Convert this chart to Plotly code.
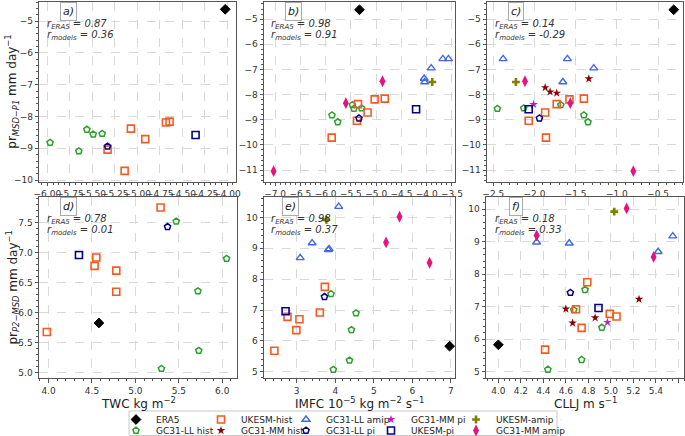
import plotly.graph_objects as go

W, H = 685, 436
FONT = "DejaVu Sans"

# ---------------- data ----------------
SERIES = ["ERA5", "GC31-LL hist", "UKESM-hist", "GC31-MM hist", "GC31-LL amip",
          "GC31-LL pi", "GC31-MM pi", "UKESM-pi", "UKESM-amip", "GC31-MM amip"]

# top row: y = pr MSD-P1 (mm/day), shared by panels a, b, c
Y_TOP = {
    "ERA5": [-4.63],
    "UKESM-hist": [-9.04, -9.71, -8.38, -8.71, -8.19, -8.16],
    "GC31-LL hist": [-8.82, -9.09, -8.41, -8.56, -8.54],
    "GC31-LL amip": [-7.36, -7.50, -6.95, -6.58, -6.58],
    "GC31-MM hist": [-7.72, -7.89, -7.94, -7.37],
    "GC31-MM pi": [-8.39],
    "GC31-LL pi": [-8.94],
    "UKESM-pi": [-8.58],
    "UKESM-amip": [-7.50],
    "GC31-MM amip": [-11.04, -8.34, -7.47],
}
X_A = {
    "ERA5": [-4.02],
    "UKESM-hist": [-5.33, -5.14, -5.07, -4.91, -4.68, -4.64],
    "GC31-LL hist": [-5.97, -5.65, -5.56, -5.49, -5.39],
    "GC31-LL pi": [-5.33],
    "UKESM-pi": [-4.35],
}
X_B = {
    "ERA5": [-5.33],
    "UKESM-hist": [-5.38, -5.88, -5.36, -5.17, -5.03, -4.83],
    "GC31-LL hist": [-5.875, -5.76, -5.47, -5.44, -5.29],
    "GC31-LL amip": [-4.05, -4.04, -3.91, -3.68, -3.57],
    "GC31-LL pi": [-5.34],
    "UKESM-pi": [-4.21],
    "UKESM-amip": [-3.89],
    "GC31-MM amip": [-7.03, -5.60, -4.875],
}
X_C = {
    "ERA5": [-0.31],
    "UKESM-hist": [-2.07, -1.86, -1.73, -1.87, -1.575, -1.40],
    "GC31-LL hist": [-1.40, -1.35, -1.68, -2.45, -2.13],
    "GC31-LL amip": [None, -1.655, -1.28, -2.38, -1.60],
    "GC31-MM hist": [-1.87, -1.81, -1.73, -1.34],
    "GC31-MM pi": [-2.01],
    "GC31-LL pi": [-1.94],
    "UKESM-pi": [-2.07],
    "UKESM-amip": [-2.225],
    "GC31-MM amip": [-0.80, -1.565, -2.115],
}

# bottom row: y = pr P2-MSD (mm/day), shared by panels d, e, f
Y_BOT = {
    "ERA5": [5.83],
    "UKESM-hist": [5.68, 6.92, 6.78, 6.70, 6.35, 7.75],
    "GC31-LL hist": [7.52, 6.90, 6.36, 5.37, 5.07],
    "GC31-LL amip": [10.35, 9.17, 8.98, 8.95, 8.69],
    "GC31-MM hist": [6.93, 6.50, 6.66, 7.23],
    "GC31-MM pi": [6.52],
    "GC31-LL pi": [7.43],
    "UKESM-pi": [6.96],
    "UKESM-amip": [9.92],
    "GC31-MM amip": [10.02, 9.19, 8.53],
}
X_D = {  # TWC kg m-2
    "ERA5": [4.58],
    "UKESM-hist": [3.98, 4.55, 4.53, 4.78, 4.78, 5.29],
    "GC31-LL hist": [5.47, 6.05, 5.72, 5.73, 5.30],
    "GC31-LL pi": [5.37],
    "UKESM-pi": [4.35],
}
X_E = {  # IMFC
    "ERA5": [6.97],
    "UKESM-hist": [2.42, 3.60, 2.76, 3.07, 2.99, 3.73],
    "GC31-LL hist": [3.89, 4.54, 4.42, 4.37, 3.95],
    "GC31-LL amip": [4.09, 3.40, 3.84, 3.82, 3.09],
    "GC31-LL pi": [3.72],
    "UKESM-pi": [2.71],
    "UKESM-amip": [3.77],
    "GC31-MM amip": [5.67, 5.32, 6.45],
}
X_F = {  # CLLJ m s-1
    "ERA5": [4.00],
    "UKESM-hist": [4.415, 4.69, 4.99, 5.05, 4.74, 4.79],
    "GC31-LL hist": [4.77, 4.67, 4.92, 4.74, 4.44],
    "GC31-LL amip": [None, 5.55, 4.34, 4.63, 5.42],
    "GC31-MM hist": [4.60, 4.66, 4.86, 5.25],
    "GC31-MM pi": [4.97],
    "GC31-LL pi": [4.64],
    "UKESM-pi": [4.89],
    "UKESM-amip": [5.03],
    "GC31-MM amip": [5.14, 4.34, 5.38],
}

PANEL_LABELS = ["a)", "b)", "c)", "d)", "e)", "f)"]
R_ERA5 = ["0.87", "0.98", "0.14", "0.78", "0.98", "0.18"]
R_MODELS = ["0.36", "0.91", "-0.29", "0.01", "0.37", "0.33"]
X_TITLES = ["TWC kg m<sup>\u22122</sup>",
            "IMFC 10<sup>\u22125</sup> kg m<sup>\u22122</sup> s<sup>\u22121</sup>",
            "CLLJ m s<sup>\u22121</sup>"]
Y_TITLES = ["pr<sub><i>MSD\u2212P1</i></sub> mm day<sup>\u22121</sup>",
            "pr<sub><i>P2\u2212MSD</i></sub> mm day<sup>\u22121</sup>"]

# ---------------- styles ----------------
STYLE = {
    "ERA5": dict(symbol="diamond", color="black", size=7.5, lw=1),
    "GC31-LL hist": dict(symbol="pentagon-open", color="#2ca02c", size=6.5, lw=1.5),
    "UKESM-hist": dict(symbol="square-open", color="#f65a22", size=7, lw=1.6),
    "GC31-MM hist": dict(symbol="star", color="#8b0000", size=6.5, lw=0),
    "GC31-LL amip": dict(symbol="triangle-up-open", color="#4169e1", size=7, lw=1.4),
    "GC31-LL pi": dict(symbol="pentagon-open", color="#00008b", size=6.5, lw=1.5),
    "GC31-MM pi": dict(symbol="star", color="#c020c0", size=6.5, lw=0),
    "UKESM-pi": dict(symbol="square-open", color="#000088", size=7, lw=1.6),
    "UKESM-amip": dict(symbol="cross", color="#808000", size=6.5, lw=0),
    "GC31-MM amip": dict(symbol="diamond-tall", color="#e4147f", size=8.5, lw=0),
}

def marker(name):
    s = STYLE[name]
    return dict(symbol=s["symbol"], color=s["color"], size=s["size"],
                line=dict(color=s["color"], width=s["lw"]))

# panel pixel boxes (left, right, top, bottom)
BOXES = [(39.3, 236, 1.7, 181.7), (264, 455, 1.7, 181.7), (487, 683, 1.7, 181.7),
         (39, 237, 196.7, 378.3), (264, 455, 196.7, 378.3), (486, 684, 196.7, 378.3)]
XRANGES = [[-6.09, -3.90], [-7.22, -3.44], [-2.576, -0.197],
           [3.89, 6.17], [2.15, 7.11], [3.89, 5.65]]
YRANGES = [[-10.05, -4.39], [-11.46, -4.31], [-11.46, -4.31],
           [4.91, 7.93], [4.79, 10.67], [4.80, 10.38]]
XTICKS = [(-6, 0.25, ".2f", 0.0625), (-7, 0.5, ".1f", 0.1), (-2.5, 0.5, ".1f", 0.1),
          (4, 0.5, ".1f", 0.1), (3, 1, "", 0.2), (4, 0.2, ".1f", 0.05)]
YTICKS = [(-10, 1, "", 0.2), (-11, 1, "", 0.2), (-11, 1, "", 0.2),
          (5, 0.5, ".1f", 0.1), (5, 1, "", 0.2), (5, 1, "", 0.2)]

PANEL_X = [X_A, X_B, X_C, X_D, X_E, X_F]
PANEL_Y = [Y_TOP, Y_TOP, Y_TOP, Y_BOT, Y_BOT, Y_BOT]

fig = go.Figure()

# legend-only traces (row order as in the reference legend)
ROW1 = ["ERA5", "UKESM-hist", "GC31-LL amip", "GC31-MM pi", "UKESM-amip"]
ROW2 = ["GC31-LL hist", "GC31-MM hist", "GC31-LL pi", "UKESM-pi", "GC31-MM amip"]
for lg, row in (("legend", ROW1), ("legend2", ROW2)):
    for name in row:
        fig.add_trace(go.Scatter(x=[None], y=[None], mode="markers", name=name,
                                 marker=marker(name), legend=lg, showlegend=True,
                                 xaxis="x", yaxis="y"))
    # invisible spacer entry so the last real entry's text is not clipped
    fig.add_trace(go.Scatter(x=[None], y=[None], mode="markers", name=" ",
                             marker=dict(size=1, opacity=0), legend=lg, showlegend=True,
                             xaxis="x", yaxis="y"))

for i in range(6):
    ax = "" if i == 0 else str(i + 1)
    for name in SERIES:
        xs = PANEL_X[i].get(name)
        if not xs:
            continue
        ys = PANEL_Y[i][name]
        fig.add_trace(go.Scatter(x=xs, y=ys, mode="markers", name=name,
                                 marker=marker(name), showlegend=False,
                                 hoverinfo="skip", xaxis="x" + ax, yaxis="y" + ax))

axis_common = dict(showline=True, mirror=True, linecolor="#555", linewidth=1,
                   ticks="outside", ticklen=3.5, tickcolor="#555", tickwidth=1,
                   showgrid=True, gridcolor="#d9d9d9", griddash="dash", gridwidth=0.8,
                   zeroline=False, tickangle=0, automargin=False,
                   tickfont=dict(family=FONT, size=9, color="#333"))

layout = dict(width=W, height=H, margin=dict(l=0, r=0, t=0, b=0, pad=0, autoexpand=False),
              paper_bgcolor="white", plot_bgcolor="white", hovermode=False,
              font=dict(family=FONT, color="#333"))

for i, (l, r, t, b) in enumerate(BOXES):
    ax = "" if i == 0 else str(i + 1)
    x0, dx, xf, xm = XTICKS[i]
    y0, dy, yf, ym = YTICKS[i]
    layout["xaxis" + ax] = dict(axis_common, domain=[l / W, r / W], range=XRANGES[i],
                                anchor="y" + ax, tickmode="linear", tick0=x0, dtick=dx,
                                tickformat=xf,
                                minor=dict(ticks="outside", ticklen=2, tickcolor="#555",
                                           tick0=x0, dtick=xm, showgrid=False))
    layout["yaxis" + ax] = dict(axis_common, domain=[1 - b / H, 1 - t / H], range=YRANGES[i],
                                anchor="x" + ax, tickmode="linear", tick0=y0, dtick=dy,
                                tickformat=yf,
                                minor=dict(ticks="outside", ticklen=2, tickcolor="#555",
                                           tick0=y0, dtick=ym, showgrid=False))

annotations = []
LABEL_POS = [(68, 11.7), (293, 11.7), (515.7, 11.7), (68.3, 206.7), (290.7, 206.7), (515.7, 206.7)]
R_LEFT = [45, 269, 493, 45, 269, 493]
for i in range(6):
    lx, ly = LABEL_POS[i]
    annotations.append(dict(x=lx / W, y=1 - ly / H, xref="paper", yref="paper",
                            text="<i>" + PANEL_LABELS[i] + "</i>", showarrow=False,
                            font=dict(family=FONT, size=11, color="#222"),
                            bordercolor="#aaa", borderwidth=1, borderpad=2,
                            bgcolor="white", xanchor="center", yanchor="middle"))
    top = BOXES[i][2]
    annotations.append(dict(x=R_LEFT[i] / W, y=1 - (top + 22.5) / H, xref="paper", yref="paper",
                            text="<i>r<sub>ERA5</sub> = " + R_ERA5[i] + "</i>", showarrow=False,
                            font=dict(family=FONT, size=10, color="#333"),
                            xanchor="left", yanchor="middle"))
    annotations.append(dict(x=R_LEFT[i] / W, y=1 - (top + 33.5) / H, xref="paper", yref="paper",
                            text="<i>r<sub>models</sub> = " + R_MODELS[i] + "</i>", showarrow=False,
                            font=dict(family=FONT, size=10, color="#333"),
                            xanchor="left", yanchor="middle"))

for j, title in enumerate(X_TITLES):
    l, r, t, b = BOXES[3 + j]
    annotations.append(dict(x=(l + r) / 2 / W, y=1 - 403 / H, xref="paper", yref="paper",
                            text=title, showarrow=False,
                            font=dict(family=FONT, size=12, color="#222"),
                            xanchor="center", yanchor="middle"))
for j, title in enumerate(Y_TITLES):
    l, r, t, b = BOXES[3 * j]
    annotations.append(dict(x=12 / W, y=1 - (t + b) / 2 / H, xref="paper", yref="paper",
                            text=title, showarrow=False, textangle=-90,
                            font=dict(family=FONT, size=12, color="#222"),
                            xanchor="center", yanchor="middle"))
layout["annotations"] = annotations

leg_common = dict(orientation="h", xref="paper", yref="paper", xanchor="left",
                  yanchor="middle", bgcolor="rgba(0,0,0,0)", borderwidth=0,
                  font=dict(family=FONT, size=9, color="#222"),
                  itemwidth=30, entrywidth=40, tracegroupgap=0)
layout["legend"] = dict(leg_common, x=116 / W, y=1 - 419.5 / H)
layout["legend2"] = dict(leg_common, x=116 / W, y=1 - 430.5 / H)
layout["shapes"] = [dict(type="rect", xref="paper", yref="paper",
                         x0=129 / W, x1=557 / W, y0=1 - 435.5 / H, y1=1 - 411 / H,
                         line=dict(color="#c8c8c8", width=1), fillcolor="rgba(0,0,0,0)",
                         layer="below")]

fig.update_layout(**layout)
fig.write_html("out.html", config={"displayModeBar": False},
               post_script="document.body.style.margin='0px';document.body.style.overflow='hidden';")
